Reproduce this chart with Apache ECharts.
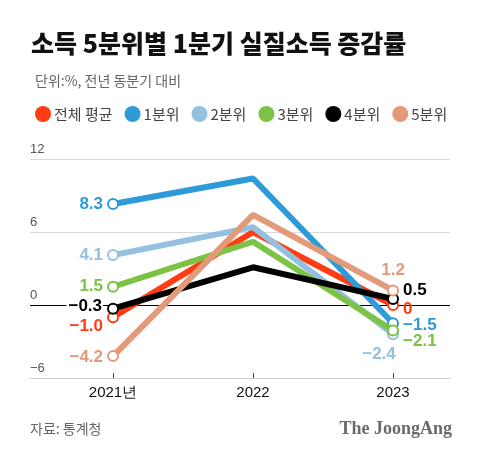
<!DOCTYPE html>
<html><head><meta charset="utf-8">
<script src="https://cdn.jsdelivr.net/npm/echarts@6/dist/echarts.min.js"></script>
<style>html,body{margin:0;padding:0;background:#fff;}#c{width:480px;height:458px;}</style>
</head><body><div id="c"></div>
<script>
const years = ['2021년', '2022', '2023'];
const yTicks = [-6, 0, 6, 12];
const seriesNames = ['전체 평균', '1분위', '2분위', '3분위', '4분위', '5분위'];
const avgVals = [-1.0, 6.0, 0];
const q1Vals = [8.3, 10.4, -1.5];
const q2Vals = [4.1, 6.4, -2.4];
const q3Vals = [1.5, 5.2, -2.1];
const q4Vals = [-0.3, 3.1, 0.5];
const q5Vals = [-4.2, 7.4, 1.2];
const allVals = [avgVals, q1Vals, q2Vals, q3Vals, q4Vals, q5Vals];

const colors = ['#ff3c12', '#2e9ad8', '#93c1df', '#7cc244', '#000000', '#e39a78'];
// label placement per series: [first point, last point]
const labelPos = [
  [{position:'left', offset:[0,9]}, {position:'right', offset:[0,4]}],
  [{position:'left', offset:[0,0]}, {position:'right', offset:[0,2]}],
  [{position:'left', offset:[0,0]}, {position:'bottom', offset:[-14,2]}],
  [{position:'left', offset:[0,0]}, {position:'right', offset:[0,11]}],
  [{position:'left', offset:[0,-2], bg:true}, {position:'right', offset:[0,-9]}],
  [{position:'left', offset:[0,1]}, {position:'top', offset:[0,-2]}]
];
const fmt = v => (v < 0 ? '\u2212' + Math.abs(v).toFixed(1) : (v === 0 ? '0' : v.toFixed(1)));

const series = allVals.map((vals, si) => ({
  name: seriesNames[si],
  type: 'line',
  color: colors[si],
  lineStyle: {width: 6, color: colors[si]},
  symbol: 'circle',
  symbolSize: 10,
  itemStyle: {color: '#fff', borderColor: colors[si], borderWidth: 2},
  z: 2 + si,
  data: vals.map((v, i) => {
    const item = {value: [i, v]};
    if (i === 1) { item.symbol = 'none'; item.label = {show: false}; }
    else {
      const lp = labelPos[si][i === 0 ? 0 : 1];
      item.label = {
        show: true, position: lp.position, offset: lp.offset, distance: 4,
        formatter: fmt(v), color: colors[si], fontSize: 17, fontWeight: 'bold',
        fontFamily: 'Liberation Sans, Arial, sans-serif',
        backgroundColor: lp.bg ? '#fff' : 'transparent', padding: lp.bg ? [0,1,0,2] : 0
      };
    }
    return item;
  }),
  markLine: si === 0 ? {
    silent: true, symbol: 'none', label: {show: false},
    lineStyle: {color: '#000', width: 1, type: 'solid'},
    data: [{yAxis: 0}], z: 1
  } : undefined
}));

const chart = echarts.init(document.getElementById('c'), null, {renderer: 'canvas'});
chart.setOption({
  animation: false,
  backgroundColor: '#fff',
  title: [
    {text: '소득 5분위별 1분기 실질소득 증감률', left: 26, top: 26,
     textStyle: {fontSize: 25, fontWeight: 900, color: '#111', fontFamily: 'Noto Sans CJK KR'}},
    {text: '단위:%, 전년 동분기 대비', left: 30, top: 69,
     textStyle: {fontSize: 14, fontWeight: 'normal', color: '#666', fontFamily: 'Noto Sans CJK KR'}}
  ],
  legend: {
    left: 30, top: 101, icon: 'circle', itemWidth: 16, itemHeight: 16, itemGap: 12,
    textStyle: {fontSize: 15, color: '#444', fontFamily: 'Noto Sans CJK KR', padding: [0,0,0,-2]},
    data: seriesNames.map((n, i) => ({name: n, itemStyle: {color: colors[i], borderWidth: 0}}))
  },
  grid: {left: 30, right: 30, top: 159, bottom: 80, containLabel: false},
  xAxis: {
    type: 'value', min: -0.593, max: 2.407,
    splitLine: {show: false},
    axisLine: {show: true, onZero: false, lineStyle: {color: '#ccc', width: 1}},
    axisTick: {show: true, inside: true, length: 5, customValues: [0, 1, 2], lineStyle: {color: '#444'}},
    axisLabel: {customValues: [0, 1, 2], formatter: v => years[Math.round(v)], fontSize: 15, color: '#111',
      margin: 7, fontFamily: 'Liberation Sans, Arial, sans-serif'}
  },
  yAxis: {
    type: 'value', min: yTicks[0], max: yTicks[yTicks.length - 1], interval: 6,
    axisLine: {show: false}, axisTick: {show: false},
    splitLine: {show: true, lineStyle: {color: '#d8d8d8', width: 1}},
    axisLabel: {inside: true, margin: 0, verticalAlign: 'bottom', padding: [0,0,3,0],
      fontSize: 13, color: '#555', fontFamily: 'Liberation Sans, Arial, sans-serif',
      formatter: v => (v < 0 ? '\u2212' + Math.abs(v) : String(v))}
  },
  graphic: [
    {type: 'text', left: 30, top: 422, style: {text: '자료: 통계청', fontSize: 14, fill: '#666', fontFamily: 'Noto Sans CJK KR'}},
    {type: 'text', right: 28, top: 420, style: {text: 'The JoongAng', fontSize: 18, fontWeight: 'bold', fill: '#6a6a6a', fontFamily: 'Liberation Serif, DejaVu Serif, serif'}}
  ],
  series: series
});
</script></body></html>
